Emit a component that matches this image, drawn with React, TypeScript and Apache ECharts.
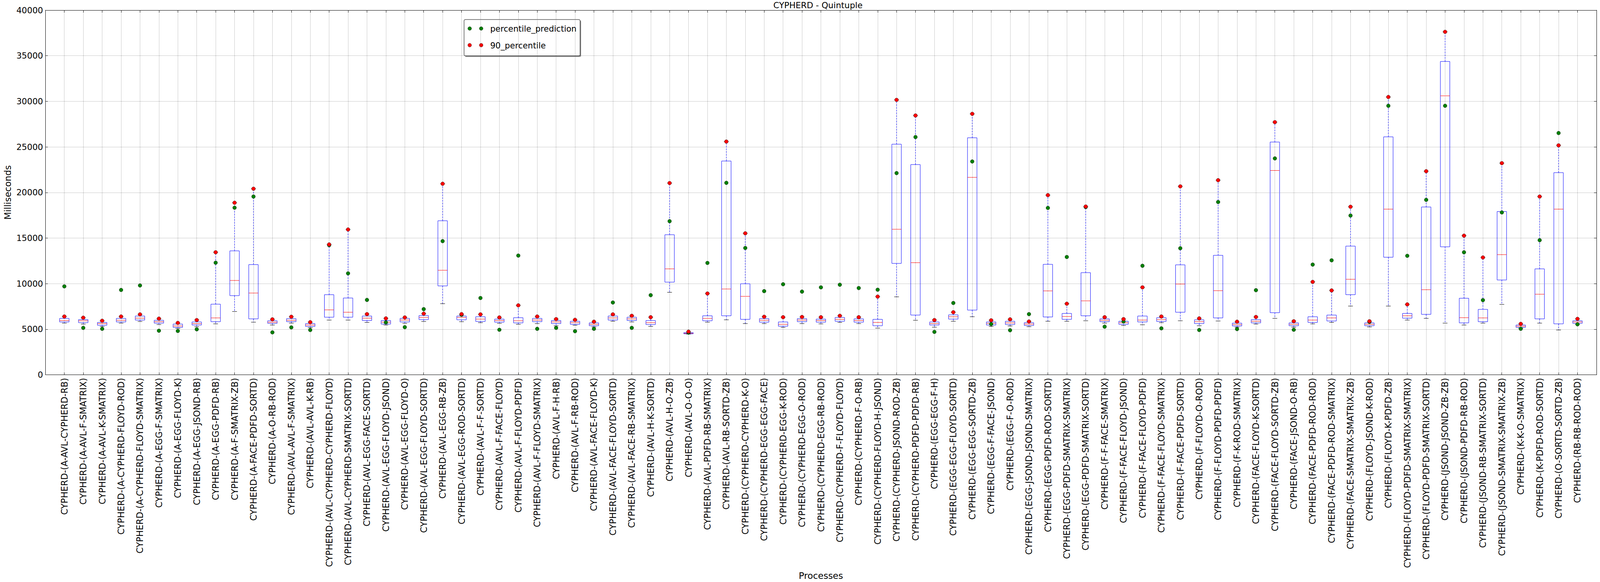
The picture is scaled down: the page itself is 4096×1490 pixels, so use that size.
import React, { useEffect, useRef } from "react";
import * as echarts from "echarts";

const categories = [
  "CYPHERD-(A-AVL-CYPHERD-RB)", "CYPHERD-(A-AVL-F-SMATRIX)", "CYPHERD-(A-AVL-K-SMATRIX)", "CYPHERD-(A-CYPHERD-FLOYD-ROD)",
  "CYPHERD-(A-CYPHERD-FLOYD-SMATRIX)", "CYPHERD-(A-EGG-F-SMATRIX)", "CYPHERD-(A-EGG-FLOYD-K)", "CYPHERD-(A-EGG-JSOND-RB)",
  "CYPHERD-(A-EGG-PDFD-RB)", "CYPHERD-(A-F-SMATRIX-ZB)", "CYPHERD-(A-FACE-PDFD-SORTD)", "CYPHERD-(A-O-RB-ROD)",
  "CYPHERD-(AVL-AVL-F-SMATRIX)", "CYPHERD-(AVL-AVL-K-RB)", "CYPHERD-(AVL-CYPHERD-CYPHERD-FLOYD)", "CYPHERD-(AVL-CYPHERD-SMATRIX-SORTD)",
  "CYPHERD-(AVL-EGG-FACE-SORTD)", "CYPHERD-(AVL-EGG-FLOYD-JSOND)", "CYPHERD-(AVL-EGG-FLOYD-O)", "CYPHERD-(AVL-EGG-FLOYD-SORTD)",
  "CYPHERD-(AVL-EGG-RB-ZB)", "CYPHERD-(AVL-EGG-ROD-SORTD)", "CYPHERD-(AVL-F-F-SORTD)", "CYPHERD-(AVL-F-FACE-FLOYD)",
  "CYPHERD-(AVL-F-FLOYD-PDFD)", "CYPHERD-(AVL-F-FLOYD-SMATRIX)", "CYPHERD-(AVL-F-H-RB)", "CYPHERD-(AVL-F-RB-ROD)",
  "CYPHERD-(AVL-FACE-FLOYD-K)", "CYPHERD-(AVL-FACE-FLOYD-SORTD)", "CYPHERD-(AVL-FACE-RB-SMATRIX)", "CYPHERD-(AVL-H-K-SORTD)",
  "CYPHERD-(AVL-H-O-ZB)", "CYPHERD-(AVL-O-O-O)", "CYPHERD-(AVL-PDFD-RB-SMATRIX)", "CYPHERD-(AVL-RB-SORTD-ZB)",
  "CYPHERD-(CYPHERD-CYPHERD-K-O)", "CYPHERD-(CYPHERD-EGG-EGG-FACE)", "CYPHERD-(CYPHERD-EGG-K-ROD)", "CYPHERD-(CYPHERD-EGG-O-ROD)",
  "CYPHERD-(CYPHERD-EGG-RB-ROD)", "CYPHERD-(CYPHERD-F-FLOYD-FLOYD)", "CYPHERD-(CYPHERD-F-O-RB)", "CYPHERD-(CYPHERD-FLOYD-H-JSOND)",
  "CYPHERD-(CYPHERD-JSOND-ROD-ZB)", "CYPHERD-(CYPHERD-PDFD-PDFD-RB)", "CYPHERD-(EGG-EGG-F-H)", "CYPHERD-(EGG-EGG-FLOYD-SORTD)",
  "CYPHERD-(EGG-EGG-SORTD-ZB)", "CYPHERD-(EGG-F-FACE-JSOND)", "CYPHERD-(EGG-F-O-ROD)", "CYPHERD-(EGG-JSOND-JSOND-SMATRIX)",
  "CYPHERD-(EGG-PDFD-ROD-SORTD)", "CYPHERD-(EGG-PDFD-SMATRIX-SMATRIX)", "CYPHERD-(EGG-PDFD-SMATRIX-SORTD)", "CYPHERD-(F-F-FACE-SMATRIX)",
  "CYPHERD-(F-FACE-FLOYD-JSOND)", "CYPHERD-(F-FACE-FLOYD-PDFD)", "CYPHERD-(F-FACE-FLOYD-SMATRIX)", "CYPHERD-(F-FACE-PDFD-SORTD)",
  "CYPHERD-(F-FLOYD-O-ROD)", "CYPHERD-(F-FLOYD-PDFD-PDFD)", "CYPHERD-(F-K-ROD-SMATRIX)", "CYPHERD-(FACE-FLOYD-K-SORTD)",
  "CYPHERD-(FACE-FLOYD-SORTD-ZB)", "CYPHERD-(FACE-JSOND-O-RB)", "CYPHERD-(FACE-PDFD-ROD-ROD)", "CYPHERD-(FACE-PDFD-ROD-SMATRIX)",
  "CYPHERD-(FACE-SMATRIX-SMATRIX-ZB)", "CYPHERD-(FLOYD-JSOND-K-ROD)", "CYPHERD-(FLOYD-K-PDFD-ZB)", "CYPHERD-(FLOYD-PDFD-SMATRIX-SMATRIX)",
  "CYPHERD-(FLOYD-PDFD-SMATRIX-SORTD)", "CYPHERD-(JSOND-JSOND-ZB-ZB)", "CYPHERD-(JSOND-PDFD-RB-ROD)", "CYPHERD-(JSOND-RB-SMATRIX-SORTD)",
  "CYPHERD-(JSOND-SMATRIX-SMATRIX-ZB)", "CYPHERD-(K-K-O-SMATRIX)", "CYPHERD-(K-PDFD-ROD-SORTD)", "CYPHERD-(O-SORTD-SORTD-ZB)",
  "CYPHERD-(RB-RB-ROD-ROD)",
];

const whiskerLow = [
  5668, 5564, 5304, 5668, 5850, 5512, 5096, 5278, 5590, 6942, 5772, 5460, 5668, 5174, 6006, 6006, 5746, 5460, 5642, 5850,
  7800, 5824, 5720, 5642, 5538, 5616, 5382, 5434, 5252, 5876, 5798, 5304, 9048, 4472, 5772, 6032, 5616, 5616, 5200, 5616,
  5590, 5746, 5616, 5122, 8554, 5980, 5226, 5876, 6370, 5304, 5356, 5278, 5876, 5876, 5928, 5668, 5408, 5486, 5720, 5928,
  5382, 5902, 5226, 5564, 6188, 5226, 5590, 5746, 7540, 5252, 7540, 6006, 6188, 5668, 5460, 5668, 7722, 5122, 5668, 4914,
  5538,
];
const quartile1 = [
  5798, 5720, 5434, 5798, 6006, 5668, 5200, 5460, 5824, 8684, 6136, 5642, 5824, 5304, 6318, 6318, 5954, 5564, 5798, 6058,
  9750, 6032, 5850, 5772, 5694, 5824, 5616, 5538, 5382, 6006, 5954, 5512, 10166, 4498, 5928, 6474, 6084, 5772, 5330, 5824,
  5772, 5876, 5772, 5382, 12220, 6552, 5460, 6110, 7098, 5460, 5512, 5408, 6344, 6084, 6474, 5824, 5538, 5798, 5850, 6864,
  5616, 6240, 5356, 5694, 6812, 5382, 5746, 5902, 8788, 5382, 12896, 6214, 6630, 14040, 5694, 5824, 10400, 5200, 6136, 5590,
  5642,
];
const medians = [
  5954, 5928, 5616, 5980, 6214, 5824, 5356, 5616, 6240, 10348, 8970, 5772, 5980, 5460, 7124, 6864, 6214, 5772, 6006, 6292,
  11466, 6292, 6110, 5954, 5928, 6006, 5798, 5720, 5538, 6240, 6136, 5720, 11622, 4550, 6188, 9412, 8606, 5980, 5538, 6006,
  5954, 6084, 5954, 5746, 15964, 12298, 5616, 6370, 21658, 5642, 5694, 5564, 9204, 6396, 8112, 5980, 5720, 6006, 6058, 9958,
  5824, 9230, 5512, 5876, 22412, 5538, 6006, 6240, 10478, 5538, 18174, 6474, 9334, 30602, 6266, 6240, 13182, 5330, 8840, 18174,
  5798,
];
const quartile3 = [
  6188, 6058, 5746, 6188, 6448, 5980, 5564, 5798, 7748, 13598, 12090, 5928, 6162, 5616, 8788, 8424, 6448, 5954, 6188, 6500,
  16900, 6448, 6370, 6110, 6266, 6188, 5954, 5876, 5694, 6448, 6318, 5954, 15366, 4628, 6474, 23452, 9984, 6162, 5798, 6162,
  6110, 6292, 6136, 6084, 25298, 23062, 5798, 6578, 26000, 5798, 5876, 5720, 12116, 6734, 11206, 6136, 5876, 6448, 6266, 12064,
  6032, 13104, 5668, 6058, 25532, 5694, 6370, 6552, 14118, 5694, 26104, 6734, 18408, 34372, 8398, 7176, 17914, 5460, 11622, 22178,
  5928,
];
const percentile90 = [
  6396, 6266, 5928, 6396, 6630, 6162, 5694, 6006, 13442, 18876, 20410, 6084, 6370, 5772, 14300, 15938, 6656, 6188, 6292, 6708,
  20956, 6656, 6630, 6292, 7618, 6396, 6110, 6032, 5824, 6630, 6474, 6318, 21034, 4732, 8918, 25584, 15522, 6370, 6318, 6344,
  6318, 6474, 6318, 8580, 30160, 28444, 6006, 6864, 28626, 5980, 6084, 5850, 19708, 7800, 18460, 6318, 6110, 9594, 6396, 20670,
  6188, 21346, 5824, 6344, 27716, 5876, 10192, 9256, 18434, 5876, 30472, 7722, 22334, 37622, 15262, 12870, 23218, 5590, 19552, 25168,
  6136,
];
const percentilePrediction = [
  9698, 5148, 5044, 9308, 9802, 4836, 4810, 4992, 12298, 18330, 19552, 4654, 5200, 4914, 14222, 11128, 8216, 5746, 5226, 7202,
  14664, 6578, 8424, 4940, 13078, 5044, 5148, 4784, 5044, 7930, 5148, 8736, 16848, 4628, 12272, 21060, 13910, 9178, 9932, 9126,
  9594, 9880, 9516, 9334, 22126, 26078, 4706, 7878, 23400, 5564, 4888, 6656, 18304, 12922, 18400, 5278, 5850, 11960, 5096, 13884,
  4914, 18954, 5018, 9282, 23738, 4940, 12090, 12558, 17472, 5798, 29510, 13052, 19188, 29510, 13442, 8190, 17810, 5044, 14768, 26520,
  5538,
];

const yTicks = [0, 5000, 10000, 15000, 20000, 25000, 30000, 35000, 40000];

const FONT = "DejaVu Sans";

export default function App() {
  const ref = useRef<HTMLDivElement>(null);

  useEffect(() => {
    const chart = echarts.init(ref.current as HTMLDivElement, null, { renderer: "svg" });

    const boxData = categories.map((_, i) => [
      i + 1, whiskerLow[i], quartile1[i], medians[i], quartile3[i], percentile90[i],
    ]);
    const predData = categories.map((_, i) => [i + 1, percentilePrediction[i]]);
    const p90Data = categories.map((_, i) => [i + 1, percentile90[i]]);

    const gridLine = { show: true, lineStyle: { color: "#333", width: 0.8, type: [1, 2] as any } };

    const renderBox = (params: any, api: any) => {
      const x = api.value(0);
      const lo = api.coord([x, api.value(1)]);
      const a = api.coord([x, api.value(2)]);
      const m = api.coord([x, api.value(3)]);
      const b = api.coord([x, api.value(4)]);
      const hi = api.coord([x, api.value(5)]);
      const band = api.size([1, 0])[0];
      const bw = band * 0.5;
      const cw = band * 0.25;
      const cx = a[0];
      const whisk = { stroke: "#0000ff", lineWidth: 1, lineDash: [4, 3] };
      const cap = { stroke: "#000000", lineWidth: 1 };
      return {
        type: "group",
        children: [
          { type: "line", shape: { x1: cx, y1: b[1], x2: cx, y2: hi[1] }, style: whisk },
          { type: "line", shape: { x1: cx, y1: a[1], x2: cx, y2: lo[1] }, style: whisk },
          { type: "line", shape: { x1: cx - cw / 2, y1: hi[1], x2: cx + cw / 2, y2: hi[1] }, style: cap },
          { type: "line", shape: { x1: cx - cw / 2, y1: lo[1], x2: cx + cw / 2, y2: lo[1] }, style: cap },
          {
            type: "rect",
            shape: { x: cx - bw / 2, y: b[1], width: bw, height: a[1] - b[1] },
            style: { stroke: "#0000ff", fill: "none", lineWidth: 1 },
          },
          { type: "line", shape: { x1: cx - bw / 2, y1: m[1], x2: cx + bw / 2, y2: m[1] }, style: { stroke: "#ff0000", lineWidth: 1 } },
        ],
      };
    };

    // legend (drawn as graphic, two markers per entry like the reference)
    const LX = 1188, LY = 50, LW = 297, LH = 93;
    const rows = [
      { y: 73, color: "#008000", text: "percentile_prediction" },
      { y: 115.6, color: "#ff0000", text: "90_percentile" },
    ];
    const legendChildren: any[] = [
      { type: "rect", shape: { x: LX + 2.5, y: LY + 2.5, width: LW, height: LH, r: 3 }, style: { fill: "#888" } },
      { type: "rect", shape: { x: LX, y: LY, width: LW, height: LH, r: 3 }, style: { fill: "#fff", stroke: "#000", lineWidth: 1 } },
    ];
    rows.forEach((r) => {
      [1202.4, 1231.8].forEach((mx) => {
        legendChildren.push({ type: "circle", shape: { cx: mx, cy: r.y, r: 4.7 }, style: { fill: r.color, stroke: "#000", lineWidth: 0.6 } });
      });
      legendChildren.push({
        type: "text", x: 1255, y: r.y + 1,
        style: { text: r.text, fontSize: 21, fontFamily: FONT, fill: "#000", verticalAlign: "middle", align: "left" },
      });
    });

    chart.setOption({
      animation: false,
      backgroundColor: "#ffffff",
      title: {
        text: "CYPHERD - Quintuple",
        left: 2094,
        top: 2,
        padding: 0,
        textAlign: "center",
        textStyle: { fontSize: 21.5, fontWeight: "normal", fontFamily: FONT, color: "#000" },
      },
      grid: { left: 101, right: 9.2, top: 26, bottom: 496, containLabel: false },
      xAxis: [
        {
          type: "value",
          position: "bottom",
          min: 0,
          max: categories.length + 1,
          interval: 1,
          axisLine: { show: true, onZero: false, lineStyle: { color: "#000", width: 1 } },
          axisTick: { show: true, inside: true, length: 6, lineStyle: { color: "#000" } },
          axisLabel: {
            show: true,
            rotate: 90,
            margin: 8,
            fontSize: 22.5,
            fontFamily: FONT,
            color: "#000",
            showMinLabel: true,
            showMaxLabel: true,
            formatter: (v: number) => categories[v - 1] ?? "",
          },
          splitLine: gridLine,
          name: "Processes",
          nameLocation: "middle",
          nameGap: 464,
          nameTextStyle: { fontSize: 23, fontFamily: FONT, color: "#000" },
        },
        {
          type: "value",
          position: "top",
          min: 0,
          max: categories.length + 1,
          interval: 1,
          axisLine: { show: true, onZero: false, lineStyle: { color: "#000", width: 1 } },
          axisTick: { show: true, inside: true, length: 6, lineStyle: { color: "#000" } },
          axisLabel: { show: false },
          splitLine: { show: false },
        },
      ],
      yAxis: [
        {
          type: "value",
          position: "left",
          min: yTicks[0],
          max: yTicks[yTicks.length - 1],
          interval: 5000,
          axisLine: { show: true, onZero: false, lineStyle: { color: "#000", width: 1 } },
          axisTick: { show: true, inside: true, length: 6, lineStyle: { color: "#000" } },
          axisLabel: { fontSize: 21.5, fontFamily: FONT, color: "#000", margin: 6, formatter: (v: number) => String(v) },
          splitLine: gridLine,
          name: "Milliseconds",
          nameLocation: "middle",
          nameRotate: 90,
          nameGap: 67,
          nameTextStyle: { fontSize: 23, fontFamily: FONT, color: "#000" },
        },
        {
          type: "value",
          position: "right",
          min: yTicks[0],
          max: yTicks[yTicks.length - 1],
          interval: 5000,
          axisLine: { show: true, onZero: false, lineStyle: { color: "#000", width: 1 } },
          axisTick: { show: true, inside: true, length: 6, lineStyle: { color: "#000" } },
          axisLabel: { show: false },
          splitLine: { show: false },
        },
      ],
      series: [
        {
          name: "box",
          type: "custom",
          xAxisIndex: 0,
          yAxisIndex: 0,
          renderItem: renderBox,
          encode: { x: 0, y: [1, 2, 3, 4, 5] },
          data: boxData,
          clip: true,
          silent: true,
        },
        {
          name: "percentile_prediction",
          type: "scatter",
          xAxisIndex: 0,
          yAxisIndex: 0,
          symbol: "circle",
          symbolSize: 9.5,
          itemStyle: { color: "#008000", borderColor: "#000", borderWidth: 0.6, opacity: 1 },
          data: predData,
          silent: true,
        },
        {
          name: "90_percentile",
          type: "scatter",
          xAxisIndex: 0,
          yAxisIndex: 0,
          symbol: "circle",
          symbolSize: 9.5,
          itemStyle: { color: "#ff0000", borderColor: "#000", borderWidth: 0.6, opacity: 1 },
          data: p90Data,
          silent: true,
        },
      ],
      graphic: [{ type: "group", children: legendChildren, z: 100 }],
    });

    return () => chart.dispose();
  }, []);

  return <div ref={ref} style={{ position: "fixed", left: 0, top: 0, width: 4096, height: 1490 }} />;
}
